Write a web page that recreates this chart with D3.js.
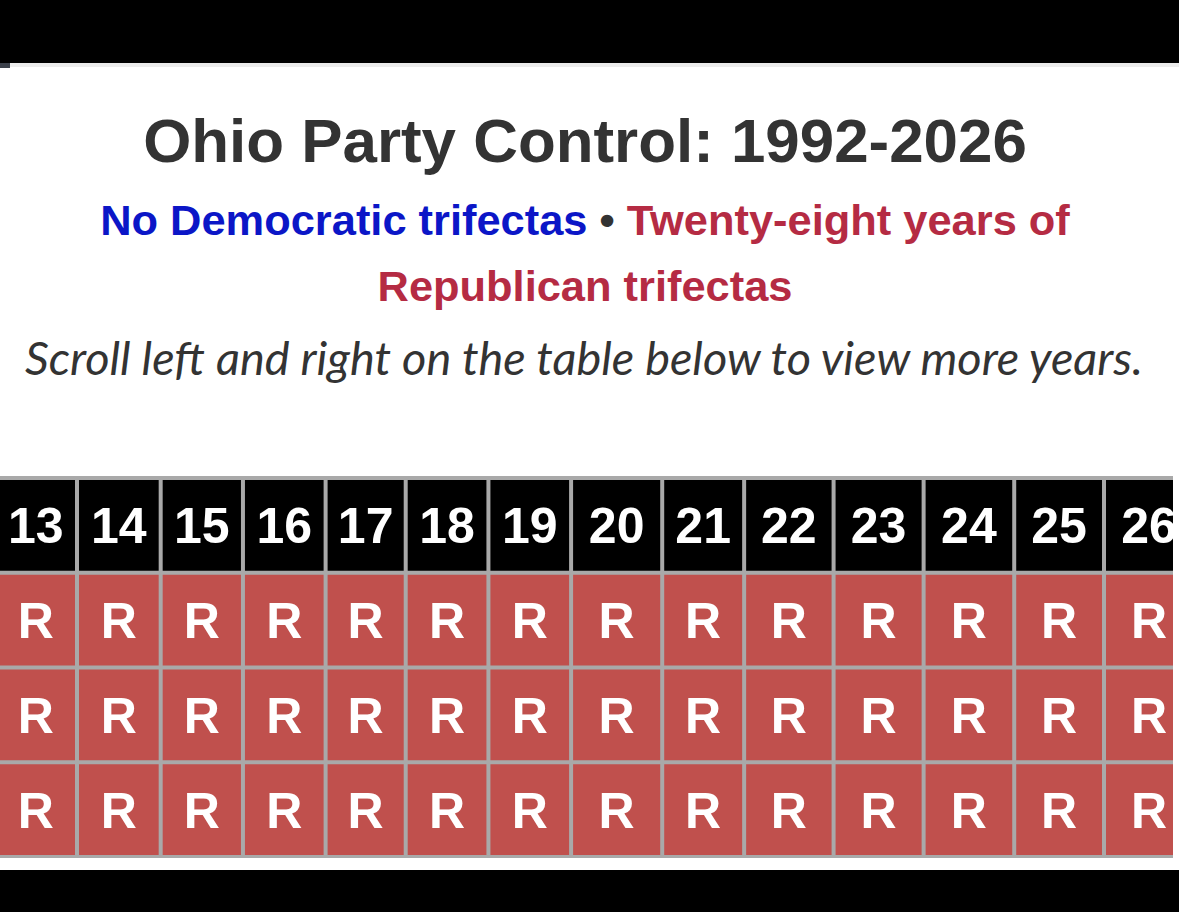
<!DOCTYPE html>
<html>
<head>
	<title>Ohio Party Control</title>
	<script src="https://d3js.org/d3.v7.min.js"></script>
	<style>
		html, body { margin: 0; padding: 0; background: #000; }
		svg { display: block; }
		.head text { font-family: "Liberation Sans", Arial, sans-serif; font-weight: bold; }
		.note { font-family: Lato, "Open Sans", sans-serif; font-style: italic; }
	</style>
</head>
<body>
	<svg width="1179" height="912"></svg>
<script>

	// data
	const years = ["13", "14", "15", "16", "17", "18", "19", "20", "21", "22", "23", "24", "25", "26"];
	const offices = ["Governor", "Senate", "House"];
	const governor = ["R", "R", "R", "R", "R", "R", "R", "R", "R", "R", "R", "R", "R", "R"];
	const senate   = ["R", "R", "R", "R", "R", "R", "R", "R", "R", "R", "R", "R", "R", "R"];
	const house    = ["R", "R", "R", "R", "R", "R", "R", "R", "R", "R", "R", "R", "R", "R"];

	const title = "Ohio Party Control: 1992-2026";
	const demNote = "No Democratic trifectas";
	const repNote1 = "Twenty-eight years of";
	const repNote2 = "Republican trifectas";
	const scrollNote = "Scroll left and right on the table below to view more years.";

	const partyColor = { R: "#c0504d", D: "#3b6fb6" };

	const svg = d3.select("svg");
	const W = +svg.attr("width");

	// page background
	svg.append("rect").attr("x", 0).attr("y", 0).attr("width", W).attr("height", 912).attr("fill", "#000");
	svg.append("rect").attr("x", 0).attr("y", 63).attr("width", W).attr("height", 807).attr("fill", "#fff");
	svg.append("rect").attr("x", 0).attr("y", 63).attr("width", W).attr("height", 4).attr("fill", "#ececec");
	svg.append("rect").attr("x", 0).attr("y", 63).attr("width", 10).attr("height", 5).attr("fill", "#3b404a");

	// fit text to a given width
	function fit(sel, base, target) {
		sel.attr("font-size", base);
		const w = sel.node().getComputedTextLength();
		sel.attr("font-size", base * target / w);
	}

	const head = svg.append("g").attr("class", "head").attr("text-anchor", "middle");

	const t = head.append("text")
		.attr("x", 585).attr("y", 162)
		.attr("fill", "#333")
		.text(title);
	fit(t, 60, 884);

	const s1 = head.append("text").attr("x", 585).attr("y", 235);
	s1.append("tspan").attr("fill", "#0b16c7").text(demNote);
	s1.append("tspan").attr("fill", "#333").text(" \u2022 ");
	s1.append("tspan").attr("fill", "#b52b43").text(repNote1);
	fit(s1, 33, 970);

	head.append("text")
		.attr("x", 585).attr("y", 301)
		.attr("fill", "#b52b43")
		.attr("font-size", s1.attr("font-size"))
		.text(repNote2);

	const n = svg.append("text")
		.attr("class", "note")
		.attr("text-anchor", "middle")
		.attr("x", 584).attr("y", 375)
		.attr("fill", "#333")
		.text(scrollNote);
	fit(n, 36, 1118);

	// table
	const rows = [{ key: "year", values: years }]
		.concat(offices.map(function(o, i) {
			return { key: o, values: [governor, senate, house][i] };
		}));

	// auto-layout style column widths: each column is as wide as its year label plus padding
	const border = 4;
	const probe = svg.append("text")
		.attr("font-family", "Inter, sans-serif")
		.attr("font-weight", 700)
		.attr("font-size", 50);
	const raw = years.map(function(yr) {
		probe.text(yr);
		return probe.node().getComputedTextLength() + 50;
	});
	probe.remove();
	// columns 14..25 fill the space between the borders at 75 and 1102
	const inner = d3.sum(raw.slice(1, 13));
	const k = (1102 - 79 - 11 * border) / inner;
	const widths = raw.map(function(w) { return w * k; });
	const lefts = [];
	let pos = 79 - border - widths[0];
	widths.forEach(function(w) { lefts.push(pos); pos += w + border; });

	const x = d3.scaleOrdinal().domain(years).range(lefts);
	const xw = d3.scaleOrdinal().domain(years).range(widths);

	const y = d3.scaleBand()
		.domain(rows.map(function(d) { return d.key; }))
		.range([480, 855])
		.paddingInner(4 / 94.75)
		.paddingOuter(0);

	svg.append("clipPath").attr("id", "tableClip")
		.append("rect").attr("x", 0).attr("y", 470).attr("width", 1173).attr("height", 400);

	const table = svg.append("g").attr("clip-path", "url(#tableClip)");

	table.append("rect")
		.attr("x", 0).attr("y", 476)
		.attr("width", 1173).attr("height", 382)
		.attr("fill", "#a9a9a9");

	const rowG = table.selectAll("g.row")
		.data(rows)
		.enter().append("g")
		.attr("class", "row")
		.attr("transform", function(d) { return "translate(0," + y(d.key) + ")"; });

	const cells = rowG.selectAll("g.cell")
		.data(function(d) {
			return d.values.map(function(v, i) { return { row: d.key, year: years[i], v: v }; });
		})
		.enter().append("g")
		.attr("class", "cell")
		.attr("transform", function(d) { return "translate(" + x(d.year) + ",0)"; });

	cells.append("rect")
		.attr("width", function(d) { return xw(d.year); })
		.attr("height", y.bandwidth())
		.attr("fill", function(d) { return d.row === "year" ? "#000" : partyColor[d.v]; });

	cells.append("text")
		.attr("x", function(d) { return xw(d.year) / 2; })
		.attr("y", y.bandwidth() / 2)
		.attr("dy", "0.36em")
		.attr("text-anchor", "middle")
		.attr("fill", "#fff")
		.attr("font-family", "'Liberation Sans', Arial, sans-serif")
		.attr("font-weight", "bold")
		.attr("font-size", 50)
		.text(function(d) { return d.v; });

</script>
</body>
</html>
